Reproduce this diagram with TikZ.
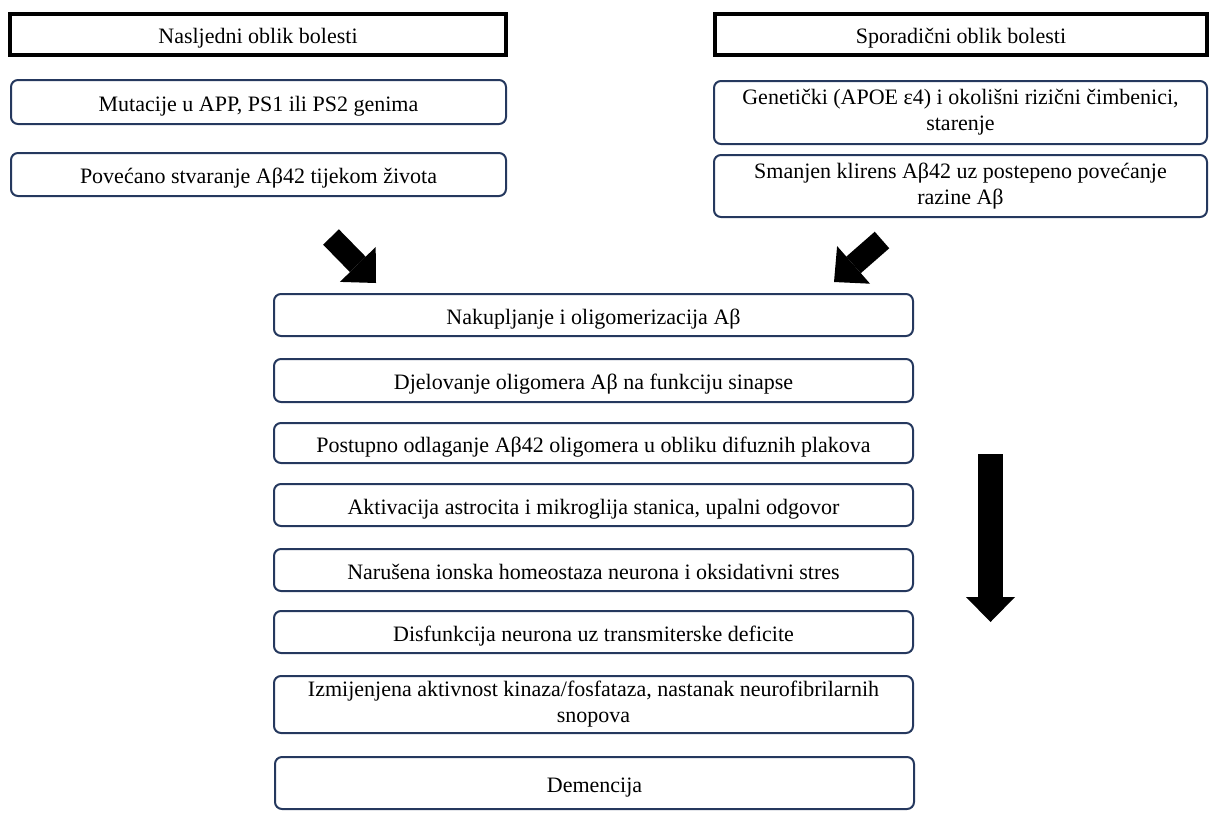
\documentclass[tikz,border=0pt]{standalone}
\usepackage{fontspec}
\setmainfont{Liberation Serif}
\usetikzlibrary{arrows.meta}
\definecolor{boxblue}{RGB}{37,56,94}
\newcommand{\sidew}{495pt}
\newcommand{\midw}{639pt}

\begin{document}
\begin{tikzpicture}[x=1pt, y=-1pt, font=\fontsize{22}{26}\selectfont,
    head/.style={draw, rectangle, line width=4pt, minimum height=41pt, inner sep=0pt, text height=21pt, text depth=3pt},
    rect/.style={draw=boxblue, rectangle, line width=2pt, rounded corners=7pt, align=center, inner sep=0pt},
    oneline/.style={rect, text height=21pt, text depth=3pt},
    bigarrow/.style={line width=22pt, -{Triangle[width=50pt, length=26pt, line width=0pt]}}]
    \useasboundingbox (0,0) rectangle (1209,812);

    % Left column
    \node[head, minimum width=496pt] (head-l) at (258,34.5) {Nasljedni oblik bolesti};
    \node[oneline, minimum width=\sidew, minimum height=44pt] (left-1) at (258.5,102) {Mutacije u APP, PS1 ili PS2 genima};
    \node[oneline, minimum width=\sidew, minimum height=43pt] (left-2) at (258.5,174.5) {Povećano stvaranje Aβ42 tijekom života};

    % Right column
    \node[head, minimum width=492pt] (head-r) at (961,34.5) {Sporadični oblik bolesti};
    \node[rect, minimum width=493pt, minimum height=63pt] (right-1) at (960.5,112.5) {Genetički (APOE ε4) i okolišni rizični čimbenici,\\ starenje};
    \node[rect, minimum width=493pt, minimum height=62pt] (right-2) at (960.5,186) {Smanjen klirens Aβ42 uz postepeno povećanje\\ razine Aβ};

    % Middle column
    \node[oneline, minimum width=\midw, minimum height=42pt] (mid-1) at (593.5,315) {Nakupljanje i oligomerizacija Aβ};
    \node[oneline, minimum width=\midw, minimum height=43pt] (mid-2) at (593.5,380.5) {Djelovanje oligomera Aβ na funkciju sinapse};
    \node[oneline, minimum width=\midw, minimum height=40pt] (mid-3) at (593.5,443) {Postupno odlaganje Aβ42 oligomera u obliku difuznih plakova};
    \node[oneline, minimum width=\midw, minimum height=42pt] (mid-4) at (593.5,505) {Aktivacija astrocita i mikroglija stanica, upalni odgovor};
    \node[oneline, minimum width=\midw, minimum height=42pt] (mid-5) at (593.5,570) {Narušena ionska homeostaza neurona i oksidativni stres};
    \node[oneline, minimum width=\midw, minimum height=42pt] (mid-6) at (593.5,632) {Disfunkcija neurona uz transmiterske deficite};
    \node[rect, minimum width=\midw, minimum height=57pt] (mid-7) at (593.5,704.5) {Izmijenjena aktivnost kinaza/fosfataza, nastanak neurofibrilarnih\\ snopova};
    \node[oneline, minimum width=\midw, minimum height=52pt] (mid-8) at (594.5,783) {Demencija};

    % Block arrows
    \coordinate (arr-l-s) at (331,237);
    \coordinate (arr-l-e) at (376,283);
    \coordinate (arr-r-s) at (882,240);
    \coordinate (arr-r-e) at (834,282);
    \coordinate (arr-d-s) at (990.5,454);
    \coordinate (arr-d-e) at (990.5,622);
    \draw[bigarrow] (arr-l-s) -- (arr-l-e);
    \draw[bigarrow] (arr-r-s) -- (arr-r-e);
    \draw[bigarrow, line width=25pt, -{Triangle[width=49pt, length=25pt, line width=0pt]}] (arr-d-s) -- (arr-d-e);

\end{tikzpicture}
\end{document}
